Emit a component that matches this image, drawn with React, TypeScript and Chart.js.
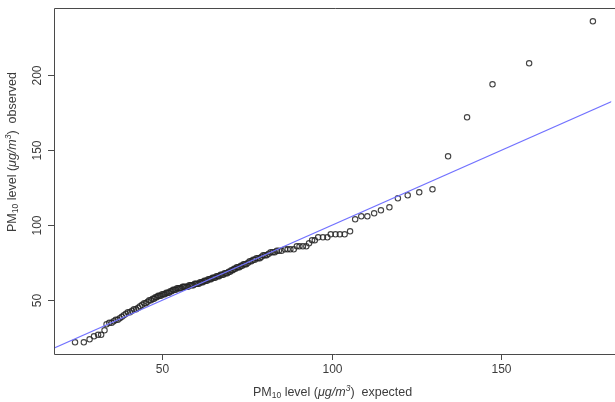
import React, { useEffect, useRef } from "react";
import { Chart, registerables } from "chart.js";

Chart.register(...registerables);

// Theoretical quantiles (x) and sorted observed PM10 levels (y)
const expected = [
  24.3, 26.9, 28.6, 29.9, 31.1, 32.0, 33.0, 33.6, 34.4, 35.1,
  35.7, 36.3, 36.9, 37.5, 38.1, 38.7, 39.3, 39.9, 40.5, 41.1,
  41.7, 42.3, 42.9, 43.5, 44.1, 44.7, 45.2, 45.7, 46.2, 46.7,
  47.2, 47.6, 48.0, 48.4, 48.8, 49.2, 49.6, 50.0, 50.4, 50.8,
  51.2, 51.6, 52.0, 52.4, 52.8, 53.2, 53.6, 54.0, 54.4, 54.8,
  55.2, 55.6, 56.0, 56.4, 56.8, 57.2, 57.6, 58.0, 58.4, 58.8,
  59.2, 59.6, 60.0, 60.4, 60.8, 61.2, 61.6, 62.0, 62.4, 62.8,
  63.2, 63.6, 64.0, 64.4, 64.8, 65.2, 65.6, 66.0, 66.4, 66.8,
  67.2, 67.6, 68.0, 68.4, 68.8, 69.2, 69.6, 70.0, 70.4, 70.8,
  71.2, 71.6, 72.0, 72.4, 72.8, 73.2, 73.6, 74.0, 74.4, 74.8,
  75.3, 75.8, 76.3, 76.8, 77.3, 77.8, 78.3, 78.8, 79.3, 79.8,
  80.3, 80.8, 81.4, 82.0, 82.6, 83.2, 83.8, 84.4,
  85.2, 86.2, 87.0, 87.8, 88.8, 89.7, 90.5, 91.5, 92.5, 93.3,
  94.2, 95.0, 96.0, 97.4, 98.7, 99.7, 101.1, 102.4, 103.8, 105.4,
  106.9, 108.7, 110.5, 112.5, 114.5, 117.0, 119.5, 122.4, 125.8, 129.7,
  134.3, 139.9, 147.4, 158.2, 177.0,
];

const observed = [
  22, 22, 24, 26, 27, 27, 30, 34, 35, 35,
  36, 37, 37, 38, 39, 40, 41, 42, 42, 43,
  44, 44, 45, 46, 47, 48, 48, 49, 50, 50,
  51, 51, 52, 52, 53, 53, 53, 54, 54, 54,
  55, 55, 55, 56, 56, 57, 57, 57, 58, 58,
  58, 58, 59, 59, 59, 59, 59, 60, 60, 60,
  60, 61, 61, 61, 61, 62, 62, 62, 63, 63,
  63, 64, 64, 64, 65, 65, 65, 66, 66, 66,
  67, 67, 67, 68, 68, 68, 69, 69, 70, 70,
  71, 71, 72, 72, 72, 73, 73, 74, 74, 74,
  75, 76, 76, 77, 77, 78, 78, 78, 79, 80,
  80, 80, 81, 82, 82, 82, 83, 83,
  83, 84, 84, 84, 84, 86, 86, 86, 86, 88,
  90, 90, 92, 92, 92, 94, 94, 94, 94, 96,
  104, 106, 106, 108, 110, 112, 118, 120, 122, 124,
  146, 172, 194, 208, 236,
];

const xTicks = [50, 100, 150];
const yTicks = [50, 100, 150, 200];
const xRange = [18.1, 182.4];
const yRange = [14.2, 244.9];
// Reference line y = x
const refLine = [0, 260];

const FONT = '"Liberation Sans", Arial, Helvetica, sans-serif';
const AXIS_COLOR = "#4a4a4a";
const TEXT_COLOR = "#3c3c3c";

type Part = { t: string; size: number; italic?: boolean; dy?: number };

function titleParts(tail: string): Part[] {
  return [
    { t: "PM", size: 12.5 },
    { t: "10", size: 8.5, dy: 3 },
    { t: " level (", size: 12.5 },
    { t: "\u03bcg/m", size: 12.5, italic: true },
    { t: "3", size: 8.5, italic: true, dy: -4 },
    { t: ")  " + tail, size: 12.5 },
  ];
}

function drawParts(ctx: CanvasRenderingContext2D, parts: Part[]) {
  const fontOf = (p: Part) => `${p.italic ? "italic " : ""}${p.size}px ${FONT}`;
  let total = 0;
  for (const p of parts) {
    ctx.font = fontOf(p);
    total += ctx.measureText(p.t).width;
  }
  let x = -total / 2;
  ctx.textAlign = "left";
  ctx.textBaseline = "middle";
  for (const p of parts) {
    ctx.font = fontOf(p);
    ctx.fillText(p.t, x, p.dy || 0);
    x += ctx.measureText(p.t).width;
  }
}

const frame = {
  id: "frame",
  afterDraw(chart: any) {
    const { ctx, chartArea, scales } = chart;
    const { left, top, bottom, right } = chartArea;
    const xs = scales.x;
    const ys = scales.y;
    ctx.save();
    ctx.strokeStyle = AXIS_COLOR;
    ctx.lineWidth = 1;
    // box (right side lies past the canvas edge)
    ctx.beginPath();
    ctx.moveTo(right + 5, top + 0.5);
    ctx.lineTo(left + 0.5, top + 0.5);
    ctx.lineTo(left + 0.5, bottom + 0.5);
    ctx.lineTo(right + 5, bottom + 0.5);
    ctx.stroke();

    ctx.fillStyle = TEXT_COLOR;
    ctx.font = `12px ${FONT}`;
    // x ticks
    for (const v of xTicks) {
      const px = Math.round(xs.getPixelForValue(v)) + 0.5;
      ctx.beginPath();
      ctx.moveTo(px, bottom);
      ctx.lineTo(px, bottom + 6);
      ctx.stroke();
      ctx.textAlign = "center";
      ctx.textBaseline = "middle";
      ctx.fillText(String(v), px, 370);
    }
    // y ticks, labels rotated
    for (const v of yTicks) {
      const py = Math.round(ys.getPixelForValue(v)) + 0.5;
      ctx.beginPath();
      ctx.moveTo(left, py);
      ctx.lineTo(left - 6, py);
      ctx.stroke();
      ctx.save();
      ctx.translate(38, py);
      ctx.rotate(-Math.PI / 2);
      ctx.textAlign = "center";
      ctx.textBaseline = "middle";
      ctx.fillText(String(v), 0, 0);
      ctx.restore();
    }

    // axis titles
    ctx.save();
    ctx.translate((left + right) / 2, 393);
    drawParts(ctx, titleParts("expected"));
    ctx.restore();

    ctx.save();
    ctx.translate(13, 152);
    ctx.rotate(-Math.PI / 2);
    drawParts(ctx, titleParts("observed"));
    ctx.restore();

    ctx.restore();
  },
};

export default function App() {
  const ref = useRef<HTMLCanvasElement | null>(null);

  useEffect(() => {
    if (!ref.current) return;
    const points = expected.map((x, i) => ({ x, y: observed[i] }));
    const line = refLine.map((v) => ({ x: v, y: v }));
    const chart = new Chart(ref.current, {
      type: "scatter",
      data: {
        datasets: [
          {
            label: "line",
            data: line,
            showLine: true,
            borderColor: "#7272ff",
            borderWidth: 1.1,
            pointRadius: 0,
          },
          {
            label: "points",
            data: points,
            pointStyle: "circle",
            pointRadius: 2.7,
            pointBorderWidth: 1.1,
            borderColor: "rgba(35,35,35,0.85)",
            backgroundColor: "rgba(0,0,0,0)",
            pointHoverRadius: 2.7,
          },
        ],
      },
      options: {
        responsive: false,
        animation: false,
        events: [],
        layout: { padding: { left: 54, top: 8, right: 0, bottom: 48 } },
        plugins: {
          legend: { display: false },
          tooltip: { enabled: false },
        },
        scales: {
          x: { type: "linear", min: xRange[0], max: xRange[1], display: false },
          y: { type: "linear", min: yRange[0], max: yRange[1], display: false },
        },
      },
      plugins: [frame],
    });
    return () => chart.destroy();
  }, []);

  return (
    <div style={{ position: "fixed", left: 0, top: 0, width: 615, height: 402, background: "#fff" }}>
      <canvas ref={ref} width={615} height={402} style={{ display: "block" }} />
    </div>
  );
}
